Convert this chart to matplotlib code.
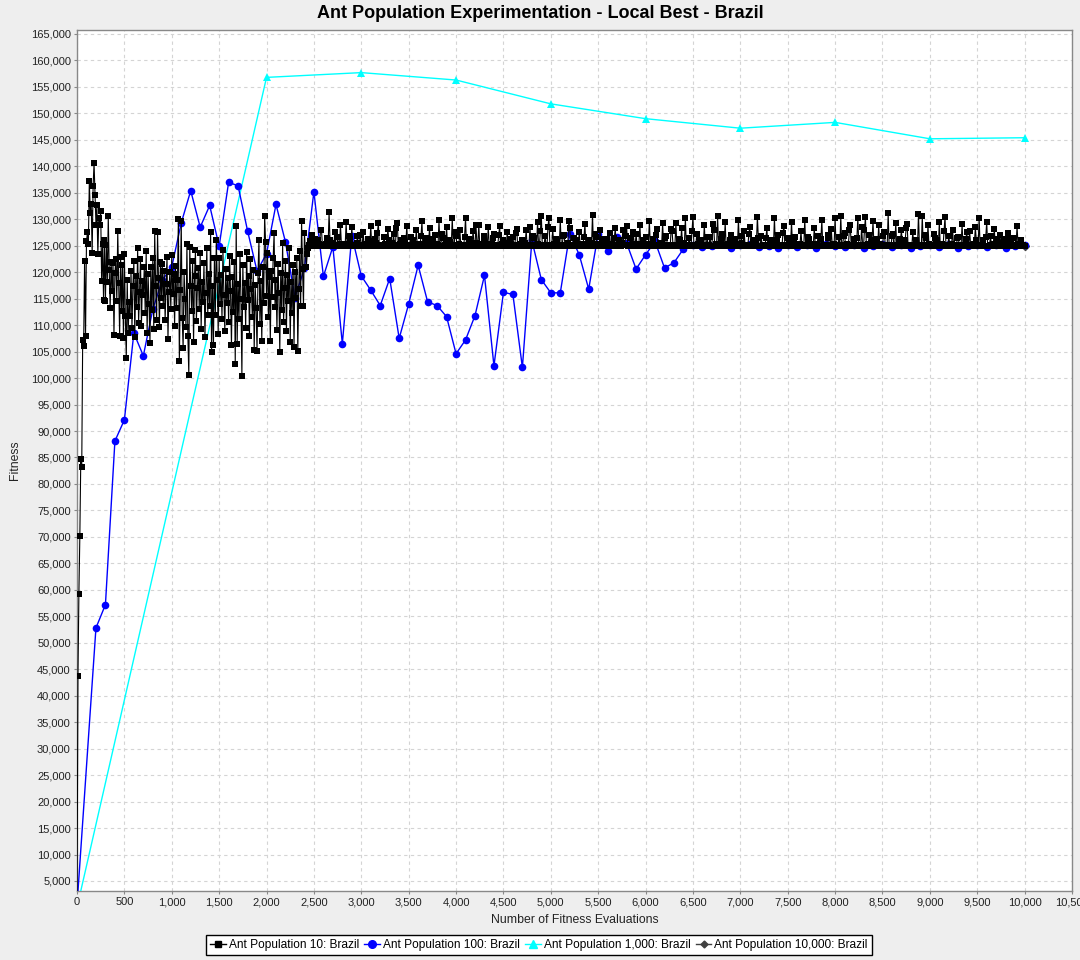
import numpy as np
import matplotlib
matplotlib.use("Agg")
import matplotlib.pyplot as plt
from matplotlib.ticker import FuncFormatter, MultipleLocator
from matplotlib.lines import Line2D

plt.rcParams['font.family'] = ['Liberation Sans', 'DejaVu Sans']

# ---------------- data (fitness values in thousands) ----------------
# Ant Population 10: evaluations 0..2400 step 10
pop10_early = [
    0.0, 43.8, 59.3, 70.2, 84.8, 83.2, 107.2, 106.0, 122.2, 108.0,
    125.8, 127.5, 125.3, 137.2, 131.2, 132.8, 123.6, 136.3, 140.6, 134.6,
    129.0, 132.6, 123.4, 130.2, 128.9, 131.5, 118.3, 125.3, 114.8, 126.0,
    114.6, 125.2, 118.2, 130.6, 120.4, 113.2, 122.0, 116.4, 121.8, 108.1,
    119.8, 122.5, 114.6, 127.8, 118.0, 108.0, 122.9, 112.7, 121.4, 107.6,
    123.5, 111.8, 103.7, 118.6, 108.5, 114.3, 111.7, 120.3, 109.5, 117.3,
    122.1, 107.8, 119.2, 113.5, 124.5, 110.4, 116.2, 122.4, 109.9, 118.3,
    115.6, 121.0, 112.2, 124.0, 108.6, 119.6, 114.0, 106.7, 120.9, 112.8,
    122.6, 109.2, 127.7, 117.4, 111.0, 127.5, 118.9, 109.6, 122.0, 115.2,
    121.5, 113.6, 120.2, 110.9, 117.8, 122.8, 107.4, 116.3, 120.0, 113.0,
    123.3, 115.9, 119.6, 109.8, 121.2, 113.3, 118.5, 130.1, 103.2, 116.7,
    129.6, 111.4, 105.6, 120.1, 114.9, 109.6, 125.4, 108.0, 100.5, 124.8,
    117.3, 112.6, 122.1, 106.8, 119.2, 124.1, 110.8, 117.0, 120.8, 113.1,
    123.6, 109.3, 118.2, 114.4, 121.7, 107.7, 116.1, 124.6, 111.9, 119.7,
    113.7, 127.6, 104.9, 117.3, 106.3, 122.7, 112.0, 126.1, 118.6, 108.4,
    122.7, 113.9, 119.5, 111.2, 124.2, 115.7, 108.9, 120.6, 114.2, 118.9,
    110.5, 123.0, 116.4, 106.2, 119.0, 112.4, 121.9, 102.7, 128.7, 106.5,
    117.7, 111.1, 123.5, 115.0, 100.4, 121.3, 113.5, 118.0, 109.4, 123.9,
    114.7, 119.3, 107.9, 122.4, 116.8, 111.6, 120.4, 105.3, 117.5, 113.2,
    105.2, 119.8, 126.0, 110.2, 118.4, 107.0, 121.0, 114.1, 130.7, 125.7,
    115.5, 123.6, 111.5, 119.1, 107.0, 120.3, 115.3, 122.7, 127.4, 113.4,
    118.6, 109.0, 121.6, 116.0, 104.9, 119.9, 112.9, 125.5, 110.6, 117.1,
    122.2, 108.8, 119.4, 114.6, 124.5, 106.9, 118.1, 112.3, 121.4, 105.8,
    120.0, 115.1, 122.6, 105.2, 116.9, 124.0, 113.7, 129.6, 120.6, 113.7,
    127.4,
]
# Ant Population 10: evaluations 2420..10000 step 20
pop10_late_a = [
    121.0, 124.6, 125.9, 127.0, 125.3, 125.0, 126.1, 125.2, 128.0, 125.0,
    124.9, 126.4, 131.3, 125.1, 125.6, 127.5, 125.0, 125.2, 129.0, 125.0,
    125.3, 129.4, 125.0, 126.2, 128.5, 125.1, 124.9, 126.8, 125.2, 125.0,
    127.6, 125.4, 124.9, 125.8, 128.7, 125.0, 126.3, 125.1, 129.3, 125.0,
    125.2, 126.6, 125.0, 128.2, 124.9, 125.5, 127.3, 125.0, 129.3, 125.1,
    126.0, 124.9, 125.3, 128.8, 125.0, 126.7, 125.2, 124.9, 127.9, 125.1,
    125.0, 129.6, 125.3, 126.4, 125.0, 128.3, 125.1, 124.9, 127.0, 125.4,
    129.8, 125.0, 126.5, 125.2, 128.6, 125.0, 125.7, 130.2, 125.1, 126.9,
    125.0, 128.0, 125.2, 124.9, 130.3, 125.0, 126.3, 125.1, 127.8, 125.0,
    125.5, 129.0, 124.9, 125.2, 126.8, 125.0, 128.5, 125.3, 125.0, 127.2,
    125.1, 125.0, 128.7, 125.4, 126.1, 124.9, 127.5, 125.0, 125.2, 126.6,
    125.0, 128.1, 125.1, 124.9, 126.0, 125.3, 127.9, 125.0, 128.6, 125.2,
    126.4, 125.0, 129.5, 125.1, 130.7, 125.0, 126.9, 124.9, 130.3, 125.2,
    128.2, 125.0, 126.2, 125.1, 129.8, 125.0, 127.0, 124.9, 125.6, 128.4,
    125.0, 126.5, 125.2, 124.9, 127.6, 125.0, 125.4, 129.1, 125.1, 126.0,
    124.9, 130.8, 125.0, 126.7, 125.3, 128.0, 125.0, 124.9, 126.3, 125.1,
    127.4, 125.0, 125.2, 128.3, 124.9, 126.1, 125.0, 127.9, 125.1, 128.7,
    125.0, 126.4, 124.9, 125.3, 127.2, 125.0, 129.0, 125.2, 125.0, 126.6,
    125.1, 129.7, 125.0, 126.2, 124.9, 128.1, 125.0, 125.5, 129.2, 125.1,
    126.8, 125.0, 124.9, 127.7, 125.2, 129.3, 125.0, 126.0, 128.4, 125.0,
    130.2, 125.1, 126.5, 125.0, 130.5, 124.9, 127.3, 125.2, 126.0, 125.0,
    128.9, 125.1, 124.9, 126.7, 125.0, 128.0, 125.3, 130.6, 125.0, 126.2,
    125.0, 129.4, 125.2, 124.9, 127.0, 125.0, 126.3, 125.1, 129.9, 125.0,
    125.6, 127.8, 124.9, 125.2, 128.6, 125.0, 126.1, 125.1, 130.5, 125.0,
    126.9, 125.0, 124.9, 128.3, 125.1, 126.0, 125.0, 130.2, 125.2, 127.1,
    124.9, 125.0, 128.8, 125.1, 126.4, 125.0, 129.5, 125.0, 126.6, 124.9,
    125.2, 127.7, 125.0, 129.9, 125.1, 126.2, 124.9, 125.0, 128.4, 125.3,
    126.9, 125.0, 129.8, 125.1, 124.9, 126.5, 125.0, 128.1, 125.2, 130.3,
    125.0, 126.7, 130.6, 125.1, 127.4, 124.9, 125.0, 129.0, 125.2, 126.3,
    125.0, 130.3, 125.1, 128.5, 124.9, 130.4, 125.0, 127.0, 125.3, 129.6,
    125.0, 126.2, 128.9, 125.1, 124.9, 127.5, 125.0, 131.1, 125.2, 126.8,
    125.0, 129.3, 124.9, 125.4, 127.9, 125.0, 126.1, 129.1, 125.1, 125.0,
    127.6, 125.2, 124.9, 130.9, 125.0, 130.6, 125.1, 126.4, 128.9, 125.0,
    124.9, 127.2, 125.3, 126.0, 129.4, 125.0, 125.1, 130.5, 125.0, 126.9,
    125.1, 128.0, 124.9, 125.0, 126.6, 125.2, 129.1, 125.0, 126.3, 124.9,
    127.7, 125.1, 125.0, 128.5, 125.0, 130.3, 125.2, 126.1, 124.9, 129.5,
    125.0, 126.8, 125.1, 128.2, 124.9, 125.3, 127.0, 125.0, 126.2, 125.1,
    127.4, 124.9, 125.0, 126.5, 125.2, 128.7, 125.0, 126.0, 125.1, 125.0,
]
# Ant Population 10: evaluations 2430..9990 step 20
pop10_late_b = [
    123.5, 125.2, 125.0, 125.6, 126.2, 125.0, 125.3, 127.9, 125.1, 125.0,
    125.4, 125.0, 126.0, 125.2, 125.0, 125.1, 126.6, 125.0, 125.3, 125.0,
    125.0, 125.4, 126.9, 125.0, 125.2, 125.0, 125.6, 125.0, 127.1, 125.1,
    125.0, 125.3, 126.2, 125.0, 125.1, 125.0, 125.5, 127.4, 125.0, 125.2,
    125.0, 125.3, 125.0, 126.1, 125.2, 125.0, 125.1, 128.4, 125.0, 125.3,
    125.0, 126.4, 125.1, 125.0, 125.2, 125.0, 126.0, 125.1, 125.4, 125.0,
    126.8, 125.0, 125.1, 125.0, 125.5, 125.0, 126.3, 125.2, 125.0, 125.1,
    125.0, 127.3, 125.0, 125.4, 125.0, 126.1, 125.2, 125.0, 127.6, 125.0,
    125.3, 125.0, 125.1, 126.7, 125.0, 125.2, 125.0, 125.6, 125.0, 128.9,
    125.1, 125.0, 125.3, 126.0, 125.0, 125.2, 125.0, 125.4, 126.5, 125.0,
    125.0, 127.0, 125.1, 125.0, 125.2, 125.0, 125.5, 126.2, 125.0, 125.1,
    127.4, 125.0, 125.3, 125.0, 125.1, 125.6, 125.0, 125.2, 125.0, 126.9,
    125.0, 125.1, 125.3, 127.8, 125.0, 125.2, 125.0, 128.6, 125.1, 125.0,
    125.4, 126.3, 125.0, 125.2, 125.0, 126.8, 125.1, 125.0, 129.7, 125.0,
    125.2, 125.0, 126.0, 125.1, 125.0, 125.3, 126.6, 125.0, 125.2, 125.0,
    125.5, 125.0, 127.2, 125.1, 125.0, 125.4, 126.2, 125.0, 125.1, 125.0,
    125.0, 125.3, 126.4, 125.0, 125.2, 125.0, 125.5, 125.1, 126.9, 125.0,
    125.2, 125.0, 127.5, 125.0, 125.1, 125.3, 125.0, 126.1, 125.2, 125.0,
    125.4, 125.0, 125.1, 125.0, 127.1, 125.2, 125.0, 125.3, 125.0, 126.5,
    125.1, 125.0, 128.2, 125.0, 125.2, 125.0, 126.3, 125.1, 125.0, 125.5,
    125.0, 125.2, 125.0, 127.7, 125.1, 125.0, 125.4, 126.0, 125.0, 125.2,
    125.0, 126.7, 125.1, 125.0, 129.1, 125.0, 125.3, 125.0, 125.1, 127.3,
    125.1, 125.0, 125.3, 126.1, 125.0, 125.2, 125.0, 125.4, 125.0, 126.8,
    125.1, 125.0, 125.2, 127.2, 125.0, 125.1, 125.0, 125.6, 126.4, 125.0,
    125.0, 125.2, 126.5, 125.0, 125.1, 125.0, 125.3, 125.0, 126.0, 125.2,
    125.0, 127.4, 125.1, 125.0, 125.5, 125.0, 125.2, 126.2, 125.0, 125.1,
    125.3, 125.0, 125.1, 125.0, 126.6, 125.0, 125.2, 125.0, 125.4, 125.1,
    125.0, 126.3, 125.0, 125.2, 125.0, 127.0, 125.1, 125.0, 125.3, 125.0,
    125.2, 125.0, 125.1, 126.8, 125.0, 125.3, 127.9, 125.0, 125.1, 125.0,
    126.4, 125.2, 125.0, 125.1, 128.0, 125.0, 125.4, 125.0, 126.1, 125.0,
    125.1, 125.0, 125.3, 125.0, 126.9, 125.0, 125.2, 125.1, 125.0, 127.3,
    125.0, 125.2, 125.0, 126.2, 125.1, 125.0, 128.3, 125.0, 125.2, 125.0,
    125.0, 126.1, 125.2, 125.0, 125.1, 125.0, 127.1, 125.0, 125.3, 125.0,
    125.1, 126.5, 125.0, 125.2, 125.0, 125.4, 127.8, 125.0, 125.1, 125.0,
    125.3, 125.0, 125.1, 126.4, 125.0, 125.2, 125.0, 125.1, 127.6, 125.0,
    125.2, 125.0, 125.4, 126.0, 125.1, 125.0, 125.2, 125.0, 126.7, 125.0,
    125.1, 125.0, 125.3, 125.0, 126.2, 125.0, 125.1, 125.0, 125.5, 125.0,
    125.2, 126.3, 125.0, 125.1, 125.0, 125.3, 125.0, 125.2, 125.0,
]
pop10_x_all = np.concatenate([np.arange(0, 2401, 10),
                              np.arange(2420, 10001, 20),
                              np.arange(2430, 10000, 20)])
pop10_y_all = np.array(pop10_early + pop10_late_a + pop10_late_b) * 1000
order = np.argsort(pop10_x_all, kind='stable')
pop10_x = pop10_x_all[order]
pop10_y = pop10_y_all[order]

# Ant Population 100
pop100_x = [0] + list(range(200, 10001, 100))
pop100_vals = [
    0.4, 52.8, 57.2, 88.1, 92.1, 108.5, 104.2, 113.0, 118.5, 121.0,
    129.3, 135.4, 128.5, 132.6, 124.9, 137.0, 136.3, 127.8, 120.2, 123.5,
    132.8, 125.7, 115.2, 120.7, 135.2, 119.2, 124.8, 106.5, 126.9, 119.3,
    116.6, 113.7, 118.8, 107.5, 114.0, 121.3, 114.4, 113.7, 111.6, 104.6,
    107.2, 111.8, 119.4, 102.3, 116.2, 115.8, 102.0, 126.0, 118.6, 116.1,
    116.1, 127.3, 123.3, 116.8, 127.3, 124.0, 126.6, 125.5, 120.6, 123.3,
    125.8, 120.8, 121.8, 124.4,
    125.2, 124.7, 125.0, 125.4, 124.6, 125.1, 125.3, 124.7, 125.0, 124.6,
    125.2, 124.8, 125.1, 124.6, 125.3, 125.0, 124.7, 125.2, 124.6, 125.0,
    125.4, 124.7, 125.1, 124.6, 125.0, 125.2, 124.7, 125.3, 124.6, 125.0,
    125.1, 124.7, 125.2, 124.6, 125.0, 125.1,
]
pop100_y = np.array(pop100_vals) * 1000

# Ant Population 1,000
pop1000_x = [0, 2000, 3000, 4000, 5000, 6000, 7000, 8000, 9000, 10000]
pop1000_y = np.array([0.0, 156.8, 157.7, 156.3, 151.8, 149.0, 147.2, 148.3, 145.2, 145.4]) * 1000

# Ant Population 10,000
pop10000_x = [10000]
pop10000_y = np.array([125.0]) * 1000

series_labels = ["Ant Population 10: Brazil", "Ant Population 100: Brazil",
                 "Ant Population 1,000: Brazil", "Ant Population 10,000: Brazil"]

# ---------------- figure ----------------
W, H = 1080, 960
fig = plt.figure(figsize=(W / 100, H / 100), dpi=100, facecolor='#EEEEEE')
ax = fig.add_axes([77 / W, 1 - 891 / H, (1072 - 77) / W, (891 - 30) / H])
ax.set_facecolor('white')

ax.plot(pop10000_x, pop10000_y, color='#404040', marker='D', markersize=4,
        linewidth=0.8, zorder=2, label=series_labels[3])
ax.plot(pop1000_x, pop1000_y, color='#00FFFF', marker='^', markersize=6,
        markeredgewidth=0, linewidth=1.0, zorder=3, label=series_labels[2])
ax.plot(pop100_x, pop100_y, color='#0000FF', marker='o', markersize=5.5,
        markeredgewidth=0, linewidth=1.0, zorder=4, label=series_labels[1])
ax.plot(pop10_x, pop10_y, color='#000000', marker='s', markersize=5,
        markeredgewidth=0, linewidth=0.8, zorder=5, label=series_labels[0])

ax.set_xlim(0, 10500)
ax.set_ylim(3110, 165750)
ax.xaxis.set_major_locator(MultipleLocator(500))
ax.yaxis.set_major_locator(MultipleLocator(5000))
fmt = FuncFormatter(lambda v, p: f"{int(round(v)):,}")
ax.xaxis.set_major_formatter(fmt)
ax.yaxis.set_major_formatter(fmt)

ax.grid(True, color='#D4D4D4', linewidth=0.8, linestyle=(0, (3, 3)), zorder=0)
ax.set_axisbelow(True)
for s in ax.spines.values():
    s.set_color('#888888')
    s.set_linewidth(1.0)
ax.tick_params(axis='both', labelsize=8, colors='#888888', labelcolor='#222222',
               length=2.5, width=0.8, pad=2)

ax.set_xlabel("Number of Fitness Evaluations", fontsize=8.8, color='#222222', labelpad=5)
ax.set_ylabel("Fitness", fontsize=8.8, color='#222222', labelpad=7)

fig.text(540 / W, 1 - 13 / H, "Ant Population Experimentation - Local Best - Brazil",
         ha='center', va='center', fontsize=13, fontweight='bold', color='black')

handles = [
    Line2D([], [], color='#000000', marker='s', markersize=5, linewidth=1),
    Line2D([], [], color='#0000FF', marker='o', markersize=5.5, linewidth=1),
    Line2D([], [], color='#00FFFF', marker='^', markersize=6, linewidth=1),
    Line2D([], [], color='#404040', marker='D', markersize=3.5, linewidth=1),
]
leg = fig.legend(handles, series_labels, loc='center', ncol=4,
                 bbox_to_anchor=(539 / W, 1 - 945 / H), fontsize=8.6,
                 frameon=True, fancybox=False, framealpha=1, edgecolor='black',
                 handlelength=1.3, handletextpad=0.25, columnspacing=0.45,
                 borderpad=0.35, borderaxespad=0)
leg.get_frame().set_linewidth(1.0)

fig.savefig("out.png", dpi=100, facecolor=fig.get_facecolor())
